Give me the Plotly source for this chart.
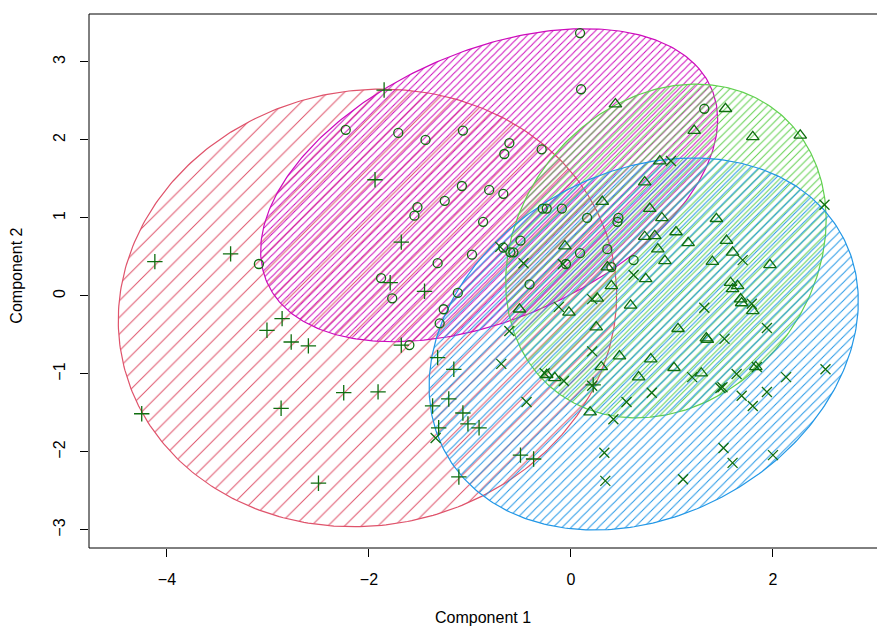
import numpy as np
import plotly.graph_objects as go

# ---- data (Component 1 / Component 2 scores) ----
circ_x = [0.09, 0.10, -2.23, -1.71, -1.44, -1.07, -0.61, -0.66, -0.29, -1.08, -0.81, -0.67,
          -1.52, -1.55, -1.25, -0.87, -0.28, -0.24, -0.09, 0.16, 0.47, 0.46, -0.50, -0.60,
          -0.57, 0.09, 0.36, 0.62, -0.05, -0.41, 0.40, -0.98, -1.32, -1.88, -1.77, -1.12,
          -1.26, -1.30, -1.60, 1.32, -3.09, -0.67]
circ_y = [3.37, 2.65, 2.13, 2.09, 2.00, 2.12, 1.96, 1.82, 1.88, 1.41, 1.36, 1.31,
          1.14, 1.03, 1.22, 0.95, 1.12, 1.12, 1.12, 1.00, 1.00, 0.95, 0.71, 0.56,
          0.56, 0.55, 0.60, 0.46, 0.41, 0.15, 0.37, 0.53, 0.42, 0.23, -0.03, 0.04,
          -0.17, -0.35, -0.63, 2.40, 0.41, 0.62]

plus_x = [-4.12, -3.37, -1.85, -1.94, -1.68, -1.79, -1.45, -2.86, -3.01, -2.77, -2.60, -2.25,
          -2.87, -4.25, -2.50, -1.68, -1.32, -1.16, -1.91, -1.21, -1.37, -1.07, -1.31, -1.02,
          -0.91, -0.50, -0.37, -1.11, 0.22]
plus_y = [0.44, 0.54, 2.64, 1.49, 0.69, 0.17, 0.06, -0.29, -0.44, -0.59, -0.64, -1.24,
          -1.44, -1.51, -2.40, -0.63, -0.79, -0.94, -1.23, -1.32, -1.41, -1.50, -1.69, -1.64,
          -1.69, -2.04, -2.09, -2.32, -1.14]

tri_x = [0.44, 1.53, 1.22, 1.80, 2.27, 0.88, 0.73, 0.78, 0.90, 1.44, 1.04, 0.73, 0.83, 1.16,
         1.54, 0.86, 1.60, 0.93, 1.40, 1.97, 0.74, 1.58, 1.60, 1.65, 1.68, 1.69, 1.80, 1.06,
         1.34, 1.35, 0.79, 1.02, 1.29, 1.83, 0.67, 0.31, -0.06, 0.36, 0.40, 0.26, -0.51, -0.02,
         0.59, 0.25, 0.48, 0.30, -0.24, -0.16, 0.19]
tri_y = [2.46, 2.40, 2.12, 2.04, 2.06, 1.73, 1.46, 1.12, 1.00, 0.99, 0.82, 0.76, 0.77, 0.68,
         0.71, 0.60, 0.56, 0.45, 0.44, 0.40, 0.22, 0.17, 0.09, 0.13, -0.04, -0.09, -0.19, -0.42,
         -0.54, -0.56, -0.81, -0.92, -0.99, -0.91, -1.04, 1.21, 0.64, 0.37, 0.13, -0.03, -0.17, -0.21,
         -0.12, -0.40, -0.77, -0.91, -1.01, -1.05, -1.49]

xx_x = [-0.70, -0.47, -0.08, 0.62, -0.12, 0.21, -0.61, -0.69, 0.21, -0.26, -0.07, 0.21, -0.44,
        0.55, 0.42, -1.34, 0.33, 0.34, 1.70, 1.32, 1.79, 1.94, 1.52, 1.20, 1.64, 1.84, 2.13,
        0.80, 1.48, 1.50, 1.69, 1.94, 1.80, 2.52, 1.51, 1.60, 2.00, 1.11, 0.99, 2.51]
xx_y = [0.63, 0.42, 0.41, 0.27, -0.14, -0.04, -0.45, -0.87, -0.71, -0.99, -1.09, -1.15, -1.36,
        -1.36, -1.58, -1.82, -2.01, -2.37, 0.46, -0.15, -0.10, -0.41, -0.55, -1.04, -1.00, -0.91, -1.04,
        -1.24, -1.18, -1.17, -1.28, -1.23, -1.41, -0.94, -1.95, -2.14, -2.04, -2.35, 1.73, 1.17]

# spanning ellipses: centre x, centre y, semi-axis a, semi-axis b, angle (deg)
ell_names = ["cluster 1", "cluster 2", "cluster 3", "cluster 4"]
ell_cx = [-2.015, -0.81, 0.94, 0.72]
ell_cy = [-0.153, 1.42, 0.577, -0.615]
ell_a = [2.82, 2.56, 2.18, 2.53]
ell_b = [2.45, 1.61, 1.53, 1.95]
ell_ang = [78.0, 37.0, 74.3, 58.4]
ell_col = ["#DF536B", "#CD0BBC", "#61D04F", "#2297E6"]
ell_hatch = [11.8, 5.0, 5.5, 6.4]
ell_lw = [1.0, 1.0, 1.0, 1.0]

x_ticks = [-4, -2, 0, 2]
y_ticks = [-3, -2, -1, 0, 1, 2, 3]

fig = go.Figure()

t = np.linspace(0, 2 * np.pi, 361)
for i in range(4):
    th = np.deg2rad(ell_ang[i])
    ex = ell_cx[i] + ell_a[i] * np.cos(t) * np.cos(th) - ell_b[i] * np.sin(t) * np.sin(th)
    ey = ell_cy[i] + ell_a[i] * np.cos(t) * np.sin(th) + ell_b[i] * np.sin(t) * np.cos(th)
    fig.add_trace(go.Scatter(
        x=ex, y=ey, mode="lines", name=ell_names[i],
        line=dict(color=ell_col[i], width=1.2),
        fill="toself", fillcolor="rgba(0,0,0,0)",
        fillpattern=dict(shape="/", size=ell_hatch[i], solidity=ell_lw[i] / ell_hatch[i],
                         fgcolor=ell_col[i], bgcolor="rgba(0,0,0,0)", fgopacity=1,
                         fillmode="overlay"),
        hoverinfo="skip", showlegend=False))

pt_col = "#0f6e0f"
for xs, ys, sym, sz in [(circ_x, circ_y, "circle-open", 9),
                        (plus_x, plus_y, "cross-thin-open", 11),
                        (tri_x, tri_y, "triangle-up-open", 11),
                        (xx_x, xx_y, "x-thin-open", 10)]:
    fig.add_trace(go.Scatter(
        x=xs, y=ys, mode="markers",
        marker=dict(symbol=sym, size=sz, color=pt_col, line=dict(color=pt_col, width=1.3)),
        showlegend=False))

fig.update_layout(
    width=877, height=628,
    margin=dict(l=89, r=0, t=14, b=80),
    paper_bgcolor="white", plot_bgcolor="white",
    font=dict(family="Liberation Sans, Arial, sans-serif", size=16, color="black"),
    xaxis=dict(range=[-4.772, 3.030], tickvals=x_ticks, ticks="outside", ticklen=8,
               tickcolor="black", showgrid=False, zeroline=False, showline=False,
               ticklabelstandoff=9, tickfont=dict(size=16)),
    yaxis=dict(range=[-3.231, 3.615], tickvals=y_ticks, ticks="outside", ticklen=8,
               tickcolor="black", showgrid=False, zeroline=False, showline=False,
               tickangle=-90, ticklabelstandoff=9, tickfont=dict(size=16)),
    shapes=[dict(type="rect", xref="paper", yref="paper", x0=0, x1=1.02, y0=0, y1=1,
                 line=dict(color="black", width=1))],
    annotations=[
        dict(text="Component 1", xref="paper", yref="paper", x=0.5, y=-0.131,
             xanchor="center", yanchor="middle", showarrow=False, font=dict(size=16)),
        dict(text="Component 2", xref="paper", yref="paper", x=-0.0914, y=0.51,
             xanchor="center", yanchor="middle", textangle=-90, showarrow=False,
             font=dict(size=16)),
    ],
)

fig.write_html("out.html", config={"displayModeBar": False},
               post_script="document.body.style.margin='0';document.body.style.overflow='hidden';")
